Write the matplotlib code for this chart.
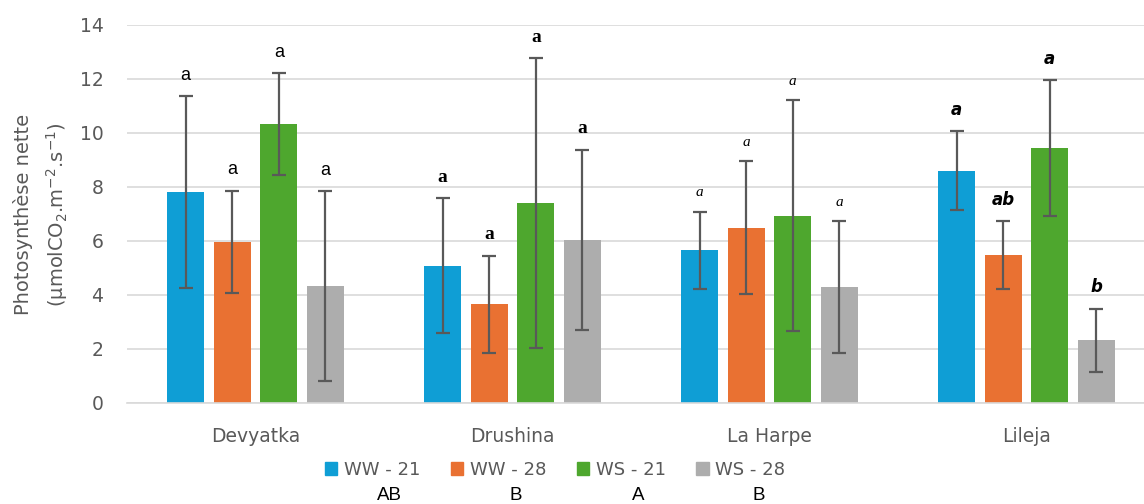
import matplotlib.pyplot as plt
import numpy as np
from matplotlib.patches import Patch

cultivars = ['Devyatka', 'Drushina', 'La Harpe', 'Lileja']
series = ['WW - 21', 'WW - 28', 'WS - 21', 'WS - 28']
series_groups = ['AB', 'B', 'A', 'B']

# net photosynthesis means and error (one row per series, one column per cultivar)
ww21 = [7.82, 5.08, 5.65, 8.61]
ww28 = [5.97, 3.66, 6.49, 5.48]
ws21 = [10.33, 7.41, 6.94, 9.44]
ws28 = [4.34, 6.05, 4.29, 2.32]

ww21_err = [3.55, 2.50, 1.43, 1.46]
ww28_err = [1.89, 1.80, 2.46, 1.25]
ws21_err = [1.88, 5.36, 4.28, 2.51]
ws28_err = [3.51, 3.33, 2.44, 1.17]

ww21_letters = ['a', 'a', 'a', 'a']
ww28_letters = ['a', 'a', 'a', 'ab']
ws21_letters = ['a', 'a', 'a', 'a']
ws28_letters = ['a', 'a', 'a', 'b']

colors = ['#0F9ED5', '#E97132', '#4EA72E', '#ADADAD']
grey_txt = '#595959'

# each cultivar's letters were typed in a different font
letter_fonts = [
    dict(family='Liberation Sans', size=13),
    dict(family='Liberation Serif', weight='bold', size=14),
    dict(family='Liberation Serif', style='italic', size=11),
    dict(family='DejaVu Sans', style='oblique', weight='bold', size=12),
]

means = [ww21, ww28, ws21, ws28]
errs = [ww21_err, ww28_err, ws21_err, ws28_err]
letters = [ww21_letters, ww28_letters, ws21_letters, ws28_letters]

fig = plt.figure(figsize=(11.44, 5.04), dpi=100)
ax = fig.add_axes([127 / 1144, 101 / 504, 1017 / 1144, 0.75])

x = np.arange(len(cultivars))
width = 0.144
step = 0.181
for i in range(4):
    xs = x + (i - 1.5) * step
    ax.bar(xs, means[i], width, color=colors[i], zorder=2)
    ax.errorbar(xs, means[i], yerr=errs[i], fmt='none', ecolor=grey_txt,
                elinewidth=1.6, capsize=5, capthick=1.6, zorder=3)
    for j in range(len(cultivars)):
        ax.annotate(letters[i][j], (xs[j], means[i][j] + errs[i][j]),
                    xytext=(0, 9), textcoords='offset points',
                    ha='center', va='bottom', color='black', **letter_fonts[j])

ax.set_ylim(0, 14)
ax.set_xlim(-0.5, -0.5 + 1017 / 257)
ax.set_yticks(np.arange(0, 15, 2))
ax.set_xticks(x)
ax.set_xticklabels(cultivars)
ax.yaxis.grid(True, color='#D9D9D9', lw=1.2, zorder=0)
ax.set_axisbelow(True)
for s in ['top', 'right', 'left']:
    ax.spines[s].set_visible(False)
ax.spines['bottom'].set_color('#D9D9D9')
ax.spines['bottom'].set_linewidth(1.2)
ax.tick_params(axis='both', length=0, colors=grey_txt, labelsize=13.5)
ax.tick_params(axis='y', pad=17)
ax.tick_params(axis='x', pad=17)

fig.text(23 / 1144, 0.575, 'Photosynthèse nette', rotation=90, ha='center', va='center',
         color=grey_txt, fontsize=14)
fig.text(57 / 1144, 0.575, '(µmolCO$_2$.m$^{-2}$.s$^{-1}$)', rotation=90, ha='center',
         va='center', color=grey_txt, fontsize=14)

handles = [Patch(color=c) for c in colors]
leg = fig.legend(handles, series, loc='center', bbox_to_anchor=(555 / 1144, 1 - 470 / 504),
                 ncol=4, frameon=False, fontsize=13, handlelength=0.7, handleheight=0.7,
                 handletextpad=0.35, columnspacing=1.7, labelcolor=grey_txt)

fig.canvas.draw()
inv = fig.transFigure.inverted()
for t, g in zip(leg.get_texts(), series_groups):
    bb = t.get_window_extent()
    cx = inv.transform(((bb.x0 + bb.x1) / 2, 0))[0]
    fig.text(cx + 0.007, 1 - 495 / 504, g, ha='center', va='center', fontsize=13.5,
             family='Liberation Sans', color='black')

fig.savefig('out.png', dpi=100)
